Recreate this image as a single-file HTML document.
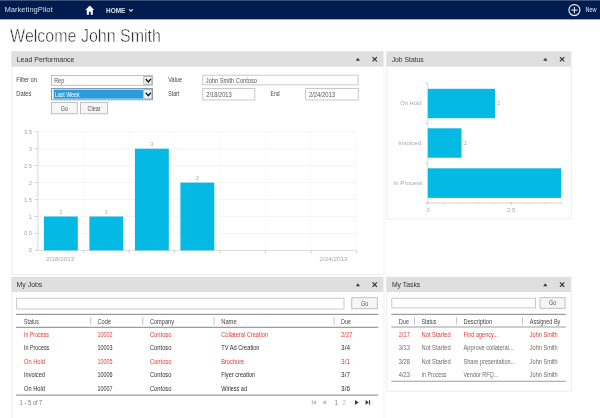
<!DOCTYPE html>
<html><head><meta charset="utf-8"><title>MarketingPilot</title>
<style>
*{margin:0;padding:0;}
html,body{width:600px;height:418px;overflow:hidden;background:#fff;}
svg{position:absolute;left:0;top:0;display:block;will-change:transform;}
text{font-family:"Liberation Sans",sans-serif;white-space:pre;}
</style></head><body>
<svg width="600" height="418" viewBox="0 0 600 418">
<rect x="0.00" y="0.00" width="600.00" height="19.35" fill="#001c4e" />
<rect x="0.00" y="0.00" width="600.00" height="0.80" fill="#fff" opacity="0.3"/>
<text x="4.50" y="11.90" font-size="7.8" fill="#d6dcea"  textLength="48.10" lengthAdjust="spacingAndGlyphs">MarketingPilot</text>
<path d="M89.8 5.6 L85.4 9.9 H86.8 V14.8 H88.9 V11.8 H90.7 V14.8 H92.8 V9.9 H94.2 Z" fill="#fff"/>
<text x="106.00" y="13.10" font-size="6.9" fill="#dde3ee" font-weight="bold"  textLength="19.30" lengthAdjust="spacingAndGlyphs">HOME</text>
<path d="M129.2 9.4 L130.95 11.2 L132.7 9.4" stroke="#e8ecf3" stroke-width="1.25" fill="none"/>
<circle cx="574.4" cy="10.1" r="5.5" stroke="#f4f6fa" stroke-width="1.15" fill="none"/>
<path d="M574.4 7V13.3M571.2 10.1H577.6" stroke="#f0f3f8" stroke-width="1"/>
<text x="585.50" y="12.40" font-size="6.4" fill="#e8ecf3"  textLength="11.00" lengthAdjust="spacingAndGlyphs">New</text>
<text x="10.10" y="42.20" font-size="17.9" fill="#1c1c1c" stroke="#fff" stroke-width="0.5" textLength="150.80" lengthAdjust="spacingAndGlyphs">Welcome John Smith</text>
<rect x="11.90" y="51.45" width="372.00" height="223.05" fill="#fff" stroke="#eeeeee" stroke-width="1" />
<rect x="11.40" y="51.45" width="372.00" height="15.20" fill="#dfdfdf" />
<text x="16.70" y="61.80" font-size="7.1" fill="#333"  textLength="57.80" lengthAdjust="spacingAndGlyphs">Lead Performance</text>
<path d="M357.90 57.85 L360.00 60.85 H355.80 Z" fill="#3a3a3a"/>
<path d="M372.50 57.05 L376.90 61.45 M376.90 57.05 L372.50 61.45" stroke="#2a2a2a" stroke-width="1.05" fill="none"/>
<text x="16.30" y="81.70" font-size="6.4" fill="#444"  textLength="20.70" lengthAdjust="spacingAndGlyphs">Filter on</text>
<text x="16.30" y="95.80" font-size="6.4" fill="#444"  textLength="15.00" lengthAdjust="spacingAndGlyphs">Dates</text>
<rect x="51.50" y="75.50" width="101.00" height="9.80" fill="#fff" stroke="#c0c0c0" stroke-width="1" />
<text x="54.20" y="82.50" font-size="6.4" fill="#555"  textLength="10.00" lengthAdjust="spacingAndGlyphs">Rep</text>
<rect x="143.80" y="76.50" width="8.00" height="7.80" fill="#f3f3f3" stroke="#a8a8a8" stroke-width="0.8" />
<path d="M145.80 79.00 L148.30 81.90 L150.80 79.00" stroke="#111" stroke-width="1.3" fill="none"/>
<rect x="51.50" y="88.50" width="101.00" height="11.30" fill="#fff" stroke="#7f9db9" stroke-width="1" />
<rect x="53.60" y="89.60" width="89.60" height="9.10" fill="#2d9bd8" />
<text x="54.70" y="96.70" font-size="6.4" fill="#fff"  textLength="25.00" lengthAdjust="spacingAndGlyphs">Last Week</text>
<rect x="143.80" y="89.50" width="8.00" height="9.30" fill="#f3f3f3" stroke="#a8a8a8" stroke-width="0.8" />
<path d="M145.80 92.75 L148.30 95.65 L150.80 92.75" stroke="#111" stroke-width="1.3" fill="none"/>
<rect x="51.50" y="102.50" width="25.80" height="11.20" fill="#f6f6f6" stroke="#c0c0c0" stroke-width="1" />
<text x="60.80" y="110.50" font-size="6.4" fill="#555"  textLength="7.20" lengthAdjust="spacingAndGlyphs">Go</text>
<rect x="80.50" y="102.50" width="27.00" height="11.20" fill="#f6f6f6" stroke="#c0c0c0" stroke-width="1" />
<text x="87.50" y="110.50" font-size="6.4" fill="#555"  textLength="13.00" lengthAdjust="spacingAndGlyphs">Clear</text>
<text x="168.30" y="81.70" font-size="6.4" fill="#444"  textLength="13.70" lengthAdjust="spacingAndGlyphs">Value</text>
<text x="168.30" y="96.20" font-size="6.4" fill="#444"  textLength="10.90" lengthAdjust="spacingAndGlyphs">Start</text>
<text x="270.50" y="95.80" font-size="6.4" fill="#444"  textLength="9.20" lengthAdjust="spacingAndGlyphs">End</text>
<rect x="202.70" y="75.20" width="155.60" height="9.60" fill="#fff" stroke="#c9c9c9" stroke-width="1" />
<text x="205.80" y="83.00" font-size="6.4" fill="#555"  textLength="51.20" lengthAdjust="spacingAndGlyphs">John Smith Contoso</text>
<rect x="202.70" y="88.50" width="52.10" height="11.50" fill="#fff" stroke="#c9c9c9" stroke-width="1" />
<text x="206.30" y="96.70" font-size="6.4" fill="#555"  textLength="25.40" lengthAdjust="spacingAndGlyphs">2/18/2013</text>
<rect x="305.60" y="88.50" width="52.70" height="11.50" fill="#fff" stroke="#c9c9c9" stroke-width="1" />
<text x="308.90" y="96.70" font-size="6.4" fill="#555"  textLength="26.20" lengthAdjust="spacingAndGlyphs">2/24/2013</text>
<path d="M38.00 250.40L357.00 250.40" stroke="#f4f4f4" stroke-width="1"/>
<path d="M38.00 233.45L357.00 233.45" stroke="#f4f4f4" stroke-width="1"/>
<path d="M38.00 216.50L357.00 216.50" stroke="#f4f4f4" stroke-width="1"/>
<path d="M38.00 199.55L357.00 199.55" stroke="#f4f4f4" stroke-width="1"/>
<path d="M38.00 182.60L357.00 182.60" stroke="#f4f4f4" stroke-width="1"/>
<path d="M38.00 165.65L357.00 165.65" stroke="#f4f4f4" stroke-width="1"/>
<path d="M38.00 148.70L357.00 148.70" stroke="#f4f4f4" stroke-width="1"/>
<path d="M38.00 131.75L357.00 131.75" stroke="#f4f4f4" stroke-width="1"/>
<path d="M83.50 131.75L83.50 250.40" stroke="#f9f9f9" stroke-width="1"/>
<path d="M129.00 131.75L129.00 250.40" stroke="#f9f9f9" stroke-width="1"/>
<path d="M174.50 131.75L174.50 250.40" stroke="#f9f9f9" stroke-width="1"/>
<path d="M220.00 131.75L220.00 250.40" stroke="#f9f9f9" stroke-width="1"/>
<path d="M265.50 131.75L265.50 250.40" stroke="#f9f9f9" stroke-width="1"/>
<path d="M311.00 131.75L311.00 250.40" stroke="#f9f9f9" stroke-width="1"/>
<path d="M356.50 131.75L356.50 250.40" stroke="#f9f9f9" stroke-width="1"/>
<path d="M38.00 131.75L38.00 250.40" stroke="#dedede" stroke-width="1"/>
<path d="M38.00 250.40L357.00 250.40" stroke="#dedede" stroke-width="1"/>
<path d="M34.80 250.40L38.00 250.40" stroke="#d0d0d0" stroke-width="1"/>
<path d="M34.80 233.45L38.00 233.45" stroke="#d0d0d0" stroke-width="1"/>
<path d="M34.80 216.50L38.00 216.50" stroke="#d0d0d0" stroke-width="1"/>
<path d="M34.80 199.55L38.00 199.55" stroke="#d0d0d0" stroke-width="1"/>
<path d="M34.80 182.60L38.00 182.60" stroke="#d0d0d0" stroke-width="1"/>
<path d="M34.80 165.65L38.00 165.65" stroke="#d0d0d0" stroke-width="1"/>
<path d="M34.80 148.70L38.00 148.70" stroke="#d0d0d0" stroke-width="1"/>
<path d="M34.80 131.75L38.00 131.75" stroke="#d0d0d0" stroke-width="1"/>
<path d="M36.40 247.01L38.00 247.01" stroke="#e0e0e0" stroke-width="0.7"/>
<path d="M36.40 243.62L38.00 243.62" stroke="#e0e0e0" stroke-width="0.7"/>
<path d="M36.40 240.23L38.00 240.23" stroke="#e0e0e0" stroke-width="0.7"/>
<path d="M36.40 236.84L38.00 236.84" stroke="#e0e0e0" stroke-width="0.7"/>
<path d="M36.40 230.06L38.00 230.06" stroke="#e0e0e0" stroke-width="0.7"/>
<path d="M36.40 226.67L38.00 226.67" stroke="#e0e0e0" stroke-width="0.7"/>
<path d="M36.40 223.28L38.00 223.28" stroke="#e0e0e0" stroke-width="0.7"/>
<path d="M36.40 219.89L38.00 219.89" stroke="#e0e0e0" stroke-width="0.7"/>
<path d="M36.40 213.11L38.00 213.11" stroke="#e0e0e0" stroke-width="0.7"/>
<path d="M36.40 209.72L38.00 209.72" stroke="#e0e0e0" stroke-width="0.7"/>
<path d="M36.40 206.33L38.00 206.33" stroke="#e0e0e0" stroke-width="0.7"/>
<path d="M36.40 202.94L38.00 202.94" stroke="#e0e0e0" stroke-width="0.7"/>
<path d="M36.40 196.16L38.00 196.16" stroke="#e0e0e0" stroke-width="0.7"/>
<path d="M36.40 192.77L38.00 192.77" stroke="#e0e0e0" stroke-width="0.7"/>
<path d="M36.40 189.38L38.00 189.38" stroke="#e0e0e0" stroke-width="0.7"/>
<path d="M36.40 185.99L38.00 185.99" stroke="#e0e0e0" stroke-width="0.7"/>
<path d="M36.40 179.21L38.00 179.21" stroke="#e0e0e0" stroke-width="0.7"/>
<path d="M36.40 175.82L38.00 175.82" stroke="#e0e0e0" stroke-width="0.7"/>
<path d="M36.40 172.43L38.00 172.43" stroke="#e0e0e0" stroke-width="0.7"/>
<path d="M36.40 169.04L38.00 169.04" stroke="#e0e0e0" stroke-width="0.7"/>
<path d="M36.40 162.26L38.00 162.26" stroke="#e0e0e0" stroke-width="0.7"/>
<path d="M36.40 158.87L38.00 158.87" stroke="#e0e0e0" stroke-width="0.7"/>
<path d="M36.40 155.48L38.00 155.48" stroke="#e0e0e0" stroke-width="0.7"/>
<path d="M36.40 152.09L38.00 152.09" stroke="#e0e0e0" stroke-width="0.7"/>
<path d="M36.40 145.31L38.00 145.31" stroke="#e0e0e0" stroke-width="0.7"/>
<path d="M36.40 141.92L38.00 141.92" stroke="#e0e0e0" stroke-width="0.7"/>
<path d="M36.40 138.53L38.00 138.53" stroke="#e0e0e0" stroke-width="0.7"/>
<path d="M36.40 135.14L38.00 135.14" stroke="#e0e0e0" stroke-width="0.7"/>
<path d="M83.50 250.40L83.50 253.20" stroke="#cecece" stroke-width="1"/>
<path d="M129.00 250.40L129.00 253.20" stroke="#cecece" stroke-width="1"/>
<path d="M174.50 250.40L174.50 253.20" stroke="#cecece" stroke-width="1"/>
<path d="M220.00 250.40L220.00 253.20" stroke="#cecece" stroke-width="1"/>
<path d="M265.50 250.40L265.50 253.20" stroke="#cecece" stroke-width="1"/>
<path d="M311.00 250.40L311.00 253.20" stroke="#cecece" stroke-width="1"/>
<path d="M356.50 250.40L356.50 253.20" stroke="#cecece" stroke-width="1"/>
<rect x="43.90" y="216.50" width="33.90" height="33.90" fill="#04b9e3" />
<rect x="89.40" y="216.50" width="33.90" height="33.90" fill="#04b9e3" />
<rect x="134.90" y="148.70" width="33.90" height="101.70" fill="#04b9e3" />
<rect x="180.40" y="182.60" width="33.90" height="67.80" fill="#04b9e3" />
<text x="28.82" y="252.40" font-size="5.6" fill="#a8a8a8"  textLength="3.28" lengthAdjust="spacingAndGlyphs">0</text>
<text x="23.90" y="235.45" font-size="5.6" fill="#a8a8a8"  textLength="8.20" lengthAdjust="spacingAndGlyphs">0.5</text>
<text x="28.82" y="218.50" font-size="5.6" fill="#a8a8a8"  textLength="3.28" lengthAdjust="spacingAndGlyphs">1</text>
<text x="23.90" y="201.55" font-size="5.6" fill="#a8a8a8"  textLength="8.20" lengthAdjust="spacingAndGlyphs">1.5</text>
<text x="28.82" y="184.60" font-size="5.6" fill="#a8a8a8"  textLength="3.28" lengthAdjust="spacingAndGlyphs">2</text>
<text x="23.90" y="167.65" font-size="5.6" fill="#a8a8a8"  textLength="8.20" lengthAdjust="spacingAndGlyphs">2.5</text>
<text x="28.82" y="150.70" font-size="5.6" fill="#a8a8a8"  textLength="3.28" lengthAdjust="spacingAndGlyphs">3</text>
<text x="23.90" y="133.75" font-size="5.6" fill="#a8a8a8"  textLength="8.20" lengthAdjust="spacingAndGlyphs">3.5</text>
<text x="59.16" y="213.60" font-size="5.6" fill="#a8a8a8"  textLength="3.28" lengthAdjust="spacingAndGlyphs">1</text>
<text x="104.66" y="213.60" font-size="5.6" fill="#a8a8a8"  textLength="3.28" lengthAdjust="spacingAndGlyphs">1</text>
<text x="150.16" y="145.80" font-size="5.6" fill="#a8a8a8"  textLength="3.28" lengthAdjust="spacingAndGlyphs">3</text>
<text x="195.66" y="179.70" font-size="5.6" fill="#a8a8a8"  textLength="3.28" lengthAdjust="spacingAndGlyphs">2</text>
<text x="46.30" y="260.60" font-size="5.6" fill="#a8a8a8"  textLength="28.00" lengthAdjust="spacingAndGlyphs">2/18/2013</text>
<text x="319.60" y="260.60" font-size="5.6" fill="#a8a8a8"  textLength="28.00" lengthAdjust="spacingAndGlyphs">2/24/2013</text>
<rect x="386.80" y="51.45" width="184.50" height="167.55" fill="#fff" stroke="#eeeeee" stroke-width="1" />
<rect x="386.30" y="51.45" width="184.50" height="15.20" fill="#dfdfdf" />
<text x="391.70" y="61.80" font-size="7.1" fill="#333"  textLength="32.00" lengthAdjust="spacingAndGlyphs">Job Status</text>
<path d="M545.30 57.85 L547.40 60.85 H543.20 Z" fill="#3a3a3a"/>
<path d="M559.90 57.05 L564.30 61.45 M564.30 57.05 L559.90 61.45" stroke="#2a2a2a" stroke-width="1.05" fill="none"/>
<path d="M427.80 83.70L427.80 203.00" stroke="#dcdcdc" stroke-width="1"/>
<path d="M427.80 203.00L561.70 203.00" stroke="#d4d4d4" stroke-width="1"/>
<path d="M425.60 83.70L427.80 83.70" stroke="#c8c8c8" stroke-width="1"/>
<path d="M425.60 123.50L427.80 123.50" stroke="#c8c8c8" stroke-width="1"/>
<path d="M425.60 163.30L427.80 163.30" stroke="#c8c8c8" stroke-width="1"/>
<path d="M425.60 203.10L427.80 203.10" stroke="#c8c8c8" stroke-width="1"/>
<path d="M427.80 202.00L427.80 204.60" stroke="#c0c0c0" stroke-width="1"/>
<path d="M444.50 202.00L444.50 203.80" stroke="#d4d4d4" stroke-width="1"/>
<path d="M461.20 202.00L461.20 203.80" stroke="#d4d4d4" stroke-width="1"/>
<path d="M477.90 202.00L477.90 203.80" stroke="#d4d4d4" stroke-width="1"/>
<path d="M494.60 202.00L494.60 203.80" stroke="#d4d4d4" stroke-width="1"/>
<path d="M511.30 202.00L511.30 204.60" stroke="#c0c0c0" stroke-width="1"/>
<path d="M528.00 202.00L528.00 203.80" stroke="#d4d4d4" stroke-width="1"/>
<path d="M544.70 202.00L544.70 203.80" stroke="#d4d4d4" stroke-width="1"/>
<path d="M561.40 202.00L561.40 203.80" stroke="#d4d4d4" stroke-width="1"/>
<rect x="427.80" y="88.80" width="67.20" height="29.40" fill="#04b9e3" />
<rect x="427.80" y="128.30" width="33.70" height="29.40" fill="#04b9e3" />
<rect x="427.80" y="168.30" width="133.40" height="29.60" fill="#04b9e3" />
<text x="400.20" y="105.20" font-size="5.6" fill="#a8a8a8"  textLength="21.30" lengthAdjust="spacingAndGlyphs">On Hold</text>
<text x="398.30" y="144.90" font-size="5.6" fill="#a8a8a8"  textLength="23.20" lengthAdjust="spacingAndGlyphs">Invoiced</text>
<text x="393.50" y="184.80" font-size="5.6" fill="#a8a8a8"  textLength="28.90" lengthAdjust="spacingAndGlyphs">In Process</text>
<text x="497.00" y="105.30" font-size="5.6" fill="#a8a8a8"  textLength="3.28" lengthAdjust="spacingAndGlyphs">2</text>
<text x="463.60" y="144.90" font-size="5.6" fill="#a8a8a8"  textLength="3.28" lengthAdjust="spacingAndGlyphs">1</text>
<text x="426.56" y="212.10" font-size="5.6" fill="#a8a8a8"  textLength="3.28" lengthAdjust="spacingAndGlyphs">0</text>
<text x="506.90" y="212.10" font-size="5.6" fill="#a8a8a8"  textLength="8.60" lengthAdjust="spacingAndGlyphs">2.5</text>
<rect x="11.90" y="277.10" width="372.00" height="152.90" fill="#fff" stroke="#eeeeee" stroke-width="1" />
<rect x="11.40" y="277.10" width="372.00" height="15.00" fill="#dfdfdf" />
<text x="16.60" y="287.45" font-size="7.1" fill="#333"  textLength="25.70" lengthAdjust="spacingAndGlyphs">My Jobs</text>
<path d="M357.90 283.20 L360.00 286.20 H355.80 Z" fill="#3a3a3a"/>
<path d="M372.50 282.40 L376.90 286.80 M376.90 282.40 L372.50 286.80" stroke="#2a2a2a" stroke-width="1.05" fill="none"/>
<rect x="16.60" y="298.20" width="327.40" height="10.80" fill="#fff" stroke="#c9c9c9" stroke-width="1" />
<rect x="351.70" y="297.70" width="25.60" height="11.00" fill="#f6f6f6" stroke="#c0c0c0" stroke-width="1" />
<text x="361.00" y="305.60" font-size="6.4" fill="#555"  textLength="7.20" lengthAdjust="spacingAndGlyphs">Go</text>
<path d="M16.10 314.40L378.30 314.40" stroke="#9c9c9c" stroke-width="1.1"/>
<path d="M16.10 327.40L378.30 327.40" stroke="#9c9c9c" stroke-width="1.1"/>
<path d="M16.10 395.10L378.30 395.10" stroke="#9c9c9c" stroke-width="1.1"/>
<text x="24.00" y="323.50" font-size="6.4" fill="#444"  textLength="14.80" lengthAdjust="spacingAndGlyphs">Status</text>
<text x="97.50" y="323.50" font-size="6.4" fill="#444"  textLength="13.60" lengthAdjust="spacingAndGlyphs">Code</text>
<text x="149.90" y="323.50" font-size="6.4" fill="#444"  textLength="24.10" lengthAdjust="spacingAndGlyphs">Company</text>
<text x="221.20" y="323.50" font-size="6.4" fill="#444"  textLength="15.50" lengthAdjust="spacingAndGlyphs">Name</text>
<text x="341.10" y="323.50" font-size="6.4" fill="#444"  textLength="9.90" lengthAdjust="spacingAndGlyphs">Due</text>
<path d="M90.80 317.00L90.80 324.80" stroke="#c4c4c4" stroke-width="1"/>
<path d="M142.80 317.00L142.80 324.80" stroke="#c4c4c4" stroke-width="1"/>
<path d="M214.00 317.00L214.00 324.80" stroke="#c4c4c4" stroke-width="1"/>
<path d="M334.00 317.00L334.00 324.80" stroke="#c4c4c4" stroke-width="1"/>
<text x="24.00" y="336.90" font-size="6.4" fill="#e23a30"  textLength="24.90" lengthAdjust="spacingAndGlyphs">In Process</text>
<text x="97.50" y="336.90" font-size="6.4" fill="#e23a30"  textLength="15.10" lengthAdjust="spacingAndGlyphs">10002</text>
<text x="149.90" y="336.90" font-size="6.4" fill="#e23a30"  textLength="21.60" lengthAdjust="spacingAndGlyphs">Contoso</text>
<text x="221.20" y="336.90" font-size="6.4" fill="#e23a30"  textLength="46.90" lengthAdjust="spacingAndGlyphs">Collateral Creation</text>
<text x="341.10" y="336.90" font-size="6.4" fill="#e23a30"  textLength="11.40" lengthAdjust="spacingAndGlyphs">2/27</text>
<text x="24.00" y="350.40" font-size="6.4" fill="#2e2e2e"  textLength="25.30" lengthAdjust="spacingAndGlyphs">In Process</text>
<text x="97.50" y="350.40" font-size="6.4" fill="#2e2e2e"  textLength="15.10" lengthAdjust="spacingAndGlyphs">10003</text>
<text x="149.90" y="350.40" font-size="6.4" fill="#2e2e2e"  textLength="21.60" lengthAdjust="spacingAndGlyphs">Contoso</text>
<text x="221.20" y="350.40" font-size="6.4" fill="#2e2e2e"  textLength="38.30" lengthAdjust="spacingAndGlyphs">TV Ad Creation</text>
<text x="341.10" y="350.40" font-size="6.4" fill="#2e2e2e"  textLength="8.90" lengthAdjust="spacingAndGlyphs">3/4</text>
<text x="24.00" y="363.90" font-size="6.4" fill="#e23a30"  textLength="20.90" lengthAdjust="spacingAndGlyphs">On Hold</text>
<text x="97.50" y="363.90" font-size="6.4" fill="#e23a30"  textLength="15.10" lengthAdjust="spacingAndGlyphs">10005</text>
<text x="149.90" y="363.90" font-size="6.4" fill="#e23a30"  textLength="21.60" lengthAdjust="spacingAndGlyphs">Contoso</text>
<text x="221.20" y="363.90" font-size="6.4" fill="#e23a30"  textLength="23.00" lengthAdjust="spacingAndGlyphs">Brochure</text>
<text x="341.10" y="363.90" font-size="6.4" fill="#e23a30"  textLength="8.90" lengthAdjust="spacingAndGlyphs">3/1</text>
<text x="24.00" y="377.40" font-size="6.4" fill="#2e2e2e"  textLength="20.90" lengthAdjust="spacingAndGlyphs">Invoiced</text>
<text x="97.50" y="377.40" font-size="6.4" fill="#2e2e2e"  textLength="15.10" lengthAdjust="spacingAndGlyphs">10006</text>
<text x="149.90" y="377.40" font-size="6.4" fill="#2e2e2e"  textLength="21.60" lengthAdjust="spacingAndGlyphs">Contoso</text>
<text x="221.20" y="377.40" font-size="6.4" fill="#2e2e2e"  textLength="34.00" lengthAdjust="spacingAndGlyphs">Flyer creation</text>
<text x="341.10" y="377.40" font-size="6.4" fill="#2e2e2e"  textLength="8.90" lengthAdjust="spacingAndGlyphs">3/7</text>
<text x="24.00" y="390.90" font-size="6.4" fill="#2e2e2e"  textLength="20.90" lengthAdjust="spacingAndGlyphs">On Hold</text>
<text x="97.50" y="390.90" font-size="6.4" fill="#2e2e2e"  textLength="15.10" lengthAdjust="spacingAndGlyphs">10007</text>
<text x="149.90" y="390.90" font-size="6.4" fill="#2e2e2e"  textLength="21.60" lengthAdjust="spacingAndGlyphs">Contoso</text>
<text x="221.20" y="390.90" font-size="6.4" fill="#2e2e2e"  textLength="25.80" lengthAdjust="spacingAndGlyphs">Wirless ad</text>
<text x="341.10" y="390.90" font-size="6.4" fill="#2e2e2e"  textLength="8.90" lengthAdjust="spacingAndGlyphs">3/6</text>
<text x="19.60" y="404.50" font-size="6.4" fill="#7a7a7a"  textLength="22.70" lengthAdjust="spacingAndGlyphs">1 - 5 of 7</text>
<path d="M312.3 400.09999999999997V404.7" stroke="#bdbdbd" stroke-width="1"/><path d="M316 400.09999999999997V404.7L313 402.4Z" fill="#bdbdbd"/>
<path d="M325.8 400.09999999999997V404.7L322.4 402.4Z" fill="#bdbdbd"/>
<path d="M355 400.09999999999997V404.7L358.6 402.4Z" fill="#333"/>
<path d="M365.6 400.09999999999997V404.7L368.8 402.4Z" fill="#333"/><path d="M369.6 400.09999999999997V404.7" stroke="#333" stroke-width="1"/>
<text x="334.74" y="404.50" font-size="6.4" fill="#777"  textLength="3.11" lengthAdjust="spacingAndGlyphs">1</text>
<text x="342.84" y="404.50" font-size="6.4" fill="#bbb"  textLength="3.11" lengthAdjust="spacingAndGlyphs">2</text>
<rect x="386.80" y="277.10" width="184.50" height="114.20" fill="#fff" stroke="#eeeeee" stroke-width="1" />
<rect x="386.30" y="277.10" width="184.50" height="15.00" fill="#dfdfdf" />
<text x="391.90" y="287.45" font-size="7.1" fill="#333"  textLength="28.40" lengthAdjust="spacingAndGlyphs">My Tasks</text>
<path d="M545.30 283.20 L547.40 286.20 H543.20 Z" fill="#3a3a3a"/>
<path d="M559.90 282.40 L564.30 286.80 M564.30 282.40 L559.90 286.80" stroke="#2a2a2a" stroke-width="1.05" fill="none"/>
<rect x="391.80" y="298.20" width="143.70" height="9.70" fill="#fff" stroke="#c9c9c9" stroke-width="1" />
<rect x="540.00" y="297.70" width="25.10" height="10.60" fill="#f6f6f6" stroke="#c0c0c0" stroke-width="1" />
<text x="549.00" y="305.40" font-size="6.4" fill="#555"  textLength="7.20" lengthAdjust="spacingAndGlyphs">Go</text>
<path d="M391.30 314.40L565.80 314.40" stroke="#9c9c9c" stroke-width="1.1"/>
<path d="M391.30 327.00L565.80 327.00" stroke="#9c9c9c" stroke-width="1.1"/>
<path d="M391.30 381.20L565.80 381.20" stroke="#9c9c9c" stroke-width="1.1"/>
<text x="398.80" y="323.50" font-size="6.4" fill="#444"  textLength="10.20" lengthAdjust="spacingAndGlyphs">Due</text>
<text x="421.50" y="323.50" font-size="6.4" fill="#444"  textLength="14.90" lengthAdjust="spacingAndGlyphs">Status</text>
<text x="463.50" y="323.50" font-size="6.4" fill="#444"  textLength="28.70" lengthAdjust="spacingAndGlyphs">Description</text>
<text x="529.80" y="323.50" font-size="6.4" fill="#444"  textLength="30.50" lengthAdjust="spacingAndGlyphs">Assigned By</text>
<path d="M414.50 317.00L414.50 324.80" stroke="#c4c4c4" stroke-width="1"/>
<path d="M456.40 317.00L456.40 324.80" stroke="#c4c4c4" stroke-width="1"/>
<path d="M522.50 317.00L522.50 324.80" stroke="#c4c4c4" stroke-width="1"/>
<text x="398.80" y="336.80" font-size="6.4" fill="#e23a30"  textLength="11.00" lengthAdjust="spacingAndGlyphs">2/17</text>
<text x="421.50" y="336.80" font-size="6.4" fill="#e23a30"  textLength="29.30" lengthAdjust="spacingAndGlyphs">Not Started</text>
<text x="463.50" y="336.80" font-size="6.4" fill="#e23a30"  textLength="34.60" lengthAdjust="spacingAndGlyphs">Find agency...</text>
<text x="529.80" y="336.80" font-size="6.4" fill="#e23a30"  textLength="27.90" lengthAdjust="spacingAndGlyphs">John Smith</text>
<text x="398.80" y="350.25" font-size="6.4" fill="#6a6a6a"  textLength="11.00" lengthAdjust="spacingAndGlyphs">3/13</text>
<text x="421.50" y="350.25" font-size="6.4" fill="#6a6a6a"  textLength="29.30" lengthAdjust="spacingAndGlyphs">Not Started</text>
<text x="463.50" y="350.25" font-size="6.4" fill="#6a6a6a"  textLength="50.10" lengthAdjust="spacingAndGlyphs">Approve collateral...</text>
<text x="529.80" y="350.25" font-size="6.4" fill="#6a6a6a"  textLength="27.90" lengthAdjust="spacingAndGlyphs">John Smith</text>
<text x="398.80" y="363.70" font-size="6.4" fill="#6a6a6a"  textLength="11.00" lengthAdjust="spacingAndGlyphs">3/28</text>
<text x="421.50" y="363.70" font-size="6.4" fill="#6a6a6a"  textLength="29.30" lengthAdjust="spacingAndGlyphs">Not Started</text>
<text x="463.50" y="363.70" font-size="6.4" fill="#6a6a6a"  textLength="51.90" lengthAdjust="spacingAndGlyphs">Share presentation...</text>
<text x="529.80" y="363.70" font-size="6.4" fill="#6a6a6a"  textLength="27.90" lengthAdjust="spacingAndGlyphs">John Smith</text>
<text x="398.80" y="377.15" font-size="6.4" fill="#6a6a6a"  textLength="11.00" lengthAdjust="spacingAndGlyphs">4/23</text>
<text x="421.50" y="377.15" font-size="6.4" fill="#6a6a6a"  textLength="25.00" lengthAdjust="spacingAndGlyphs">In Process</text>
<text x="463.50" y="377.15" font-size="6.4" fill="#6a6a6a"  textLength="34.80" lengthAdjust="spacingAndGlyphs">Vendor RFQ...</text>
<text x="529.80" y="377.15" font-size="6.4" fill="#6a6a6a"  textLength="27.90" lengthAdjust="spacingAndGlyphs">John Smith</text>
</svg>
</body></html>
